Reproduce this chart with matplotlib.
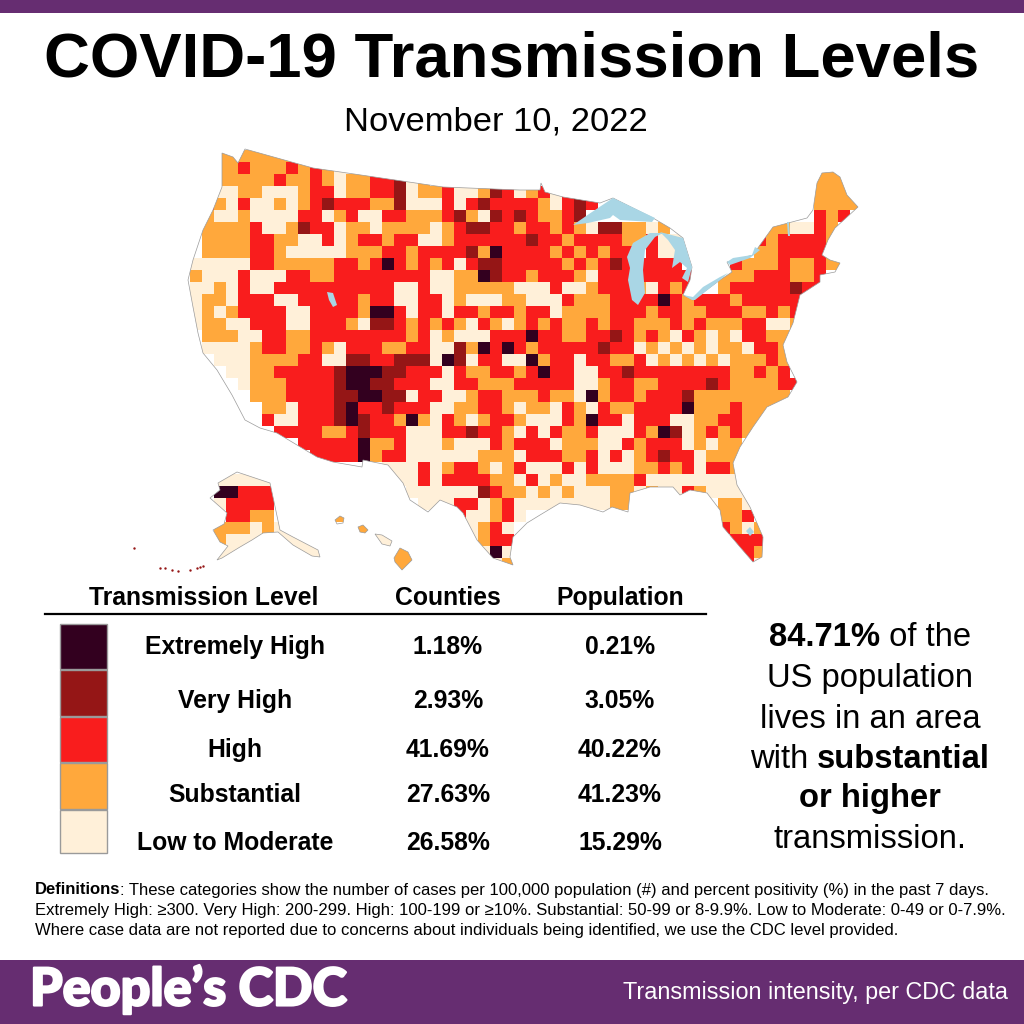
#!/usr/bin/env python3
"""COVID-19 transmission level map + table, rebuilt on a coarse county grid."""
import matplotlib
matplotlib.use("Agg")
import matplotlib.pyplot as plt
import matplotlib.patheffects as pe
import numpy as np
from matplotlib.colors import ListedColormap
from matplotlib.patches import Polygon, Rectangle, PathPatch
from matplotlib.path import Path

LEVELS = ["Extremely High", "Very High", "High", "Substantial", "Low to Moderate"]
COUNTIES = ["1.18%", "2.93%", "41.69%", "27.63%", "26.58%"]
POPULATION = ["0.21%", "3.05%", "40.22%", "41.23%", "15.29%"]
LEVEL_COLORS = ["#33001f", "#951616", "#f91d1d", "#ffa83c", "#fff0d9"]
LEVEL_CODES = "EVHSL"

PURPLE = "#662d71"; LAKE = "#a9d6e5"; EDGE = "#9a9a9a"
FONT = "Liberation Sans"

# level per grid cell, one string per row (groups of 5 columns), "." = no data
COUNTY_ROWS = [
    "SSSSS SSSS",
    "LLSSH SSSHS HSLLL ..... ..... ..... ..... ..... ..... ..... ..SSS .",
    "LSSSS SSHSS HSLSS HHVLS ..... ..... ..... ..... ..... ..... ..SSS .",
    "LLLLS SLLLS HHLSS HHVLS SHLLS VHLSH LH... ..... ..... ..... ..SSS .",
    "LHSLH LLSLS HVHHH SSVLL LHLHV HHHHS LHVH. ..... ..... ..... ..SSS S",
    "SSLLS LLLLH HLSHL LHHSS SHVSL VHVHS SHV.. ..... ..... ..... ..HSH .",
    ".SSSS HLLSV HHLSS LSSSS LSHVV HHSHH SHSLV VSSLS ..... ...SS LLHS. .",
    ".SSSS HHSSL LHLSH HSHHL LSHHH HHHVH HSHHH HSSHL L.... ..HSH HHHS. .",
    ".SSSS HHSLL LLLSS SHHSH HHHVS EHHHH SHSHS HH.HL L.... ..SSH HHHS. .",
    "LLLLL HHSSS SSHHS HEHSH SHLHV VHHHH HSHSH VHHHH H.... HSSSH SSHSS .",
    "SLLLH LLLHH SSHHH HHHHH LLSSE VHHSH HHSLH HHHHH HH..S SSHHH SSH.. .",
    "LLSLH LLHHH HHHHH HHLLH LLSSS SSLLL HLLSH HHSLH SH..S HHHHH VHH.. .",
    "LSSLH HHLLH HHHHS HHLLH HLSLL LSSLL LHSSS HHHHE HSHHH SHHHH H.... .",
    "LSLSH HHHLL HHHHS EEHLH HLHHS HHSHH LSSSS HHHSH HSSHH HSSHS H.... .",
    "LSSLL HHHLL HHHSL VVHSH SHSLH SLSHS HSSHS HHSSS HSHSS SHHLL S.... .",
    ".SSSL LHHSS HHHHH HHHSH LSLLL HHHEH HSSHH VHSHS LHSLS LHHSS S.... .",
    ".LLLL SHHSS HSLHH HSSHH LLVSE HEHSH HHHHV HHLSL SLSLS SLHHS S.... .",
    "..LLL SSSSH HLLVV HHVVV LEVLH HLLES HHLHH SSHLS LSLSL SSSHS S.... .",
    "...LL SSHHH HHVEE EVVHH HLHSS HHSHE HHLLH HVHHH HHHHH SSHSH ..... .",
    "....L SSSHH HHVEE VVHHH LLHHS SSHHH HHLLS HHSSH HHHVH SSSSH H.... .",
    "..... SSSHH HHVVE EVVLH HLLSH HSSSH SSLES HHSHH HVSSS SSSSS ..... .",
    "..... .SSLH HHVEH HVHHH LLSSH HSLSS LHSLH SSHHH HESSS HSSS. ..... .",
    "..... .HLLH HHVEV HHSES LHSLS HHSLL LHSEH HLHHH LLSSH HSS.. ..... .",
    "..... ..HHH HSSHV HHHLL LHHVH HSLHL HSSHL LLHSE VLSHS HS... ..... .",
    "..... ....H HHHHE SSHLL LSLLL HSHHH LSSSL LHSHH HLSLS S.... ..... .",
    "..... ..... HHHHE SHHLL LLLLS SSLHH HSSHL HLSHV HHLSS S.... ..... .",
    "..... ..... ..... .LLLH LSHHS LSHLL LHLHL LLSSH SHLHH S.... ..... .",
    ".LLLL LL... ..... ..LLH LHHHH SSLHL SLLSS SSHLL LLLLL LSS.. ..... .",
    "..EEH HH... ..... ...LL LLLLV HSSLS LSLLL SSLSL LHSLL LLS.. ..... .",
    "..LHH HH... ..... ....L LLHHL SHLLL LLLLL SS... ....S SL... ..... .",
    "...HH SS... ..S.. ..... LLHLL SHL.. ..... ..... ....S SH... ..... .",
    "..SSS LSL.. ....S ..... ..LLS HL... ..... ..... ....H SLS.. ..... .",
    "..SLL LLLLL ..... LL... ...LS HH... ..... ..... ..... HHH.. ..... .",
    "..LLL L..LL L.... ..SS. ....L ELL.. ..... ..... ..... HHS.. ..... .",
    ".LLL. ..... ..... ..SS. ..... LS... ..... ..... ..... .HL.. ..... .",
]

# land and lake outlines, in image pixels
MAINLAND = [(222, 153), (233, 157), (238, 163), (245, 149), (313, 168), (443, 187), (520, 190),
            (540, 190), (541, 183), (545, 192), (563, 197), (600, 203), (613, 198), (653, 218),
            (670, 228), (683, 238), (692, 267), (690, 280), (683, 295), (693, 300), (720, 280),
            (732, 272), (727, 262), (753, 255), (760, 245), (773, 227), (807, 218), (813, 210),
            (817, 183), (822, 173), (833, 172), (840, 177), (847, 195), (858, 207), (835, 228),
            (828, 240), (822, 255), (830, 260), (840, 263), (835, 272), (820, 275), (820, 282),
            (800, 295), (798, 303), (793, 323), (783, 345), (787, 362), (797, 382), (788, 397),
            (767, 407), (753, 427), (740, 447), (733, 463), (737, 485), (750, 507), (763, 537),
            (762, 557), (753, 562), (740, 547), (723, 527), (720, 510), (707, 493), (690, 490),
            (680, 495), (673, 487), (650, 487), (630, 493), (628, 512), (612, 507), (603, 512),
            (580, 505), (560, 503), (540, 515), (527, 523), (513, 537), (510, 557), (513, 565),
            (493, 558), (477, 540), (463, 513), (457, 507), (440, 500), (428, 512), (410, 500),
            (403, 483), (388, 465), (363, 460), (362, 467), (333, 462), (317, 457), (277, 433),
            (260, 428), (245, 420), (232, 395), (217, 370), (203, 353), (198, 333), (193, 307),
            (188, 280), (193, 260), (203, 230), (213, 210), (222, 187)]
ALASKA = [(237, 472), (270, 483), (280, 530), (293, 537), (318, 550), (320, 557), (312, 556),
          (293, 545), (278, 532), (263, 533), (252, 540), (240, 547), (222, 558), (217, 560),
          (228, 546), (220, 542), (213, 530), (224, 524), (227, 513), (210, 498), (220, 490),
          (218, 483)]
KAUAI = [(335, 520), (340, 516), (344, 518), (343, 523), (337, 524)]
OAHU = [(358, 527), (363, 525), (368, 530), (365, 533), (360, 532)]
MAUI = [(375, 534), (382, 535), (392, 541), (390, 546), (382, 544)]
BIG_ISLAND = [(394, 558), (400, 548), (408, 552), (412, 560), (402, 570), (395, 562)]

SUPERIOR = [(573, 225), (592, 212), (613, 198), (655, 218), (652, 222), (620, 220), (613, 215),
            (610, 218), (588, 223)]
MICHIGAN = [(650, 233), (633, 243), (627, 257), (630, 268), (628, 280), (632, 300), (638, 305),
            (645, 293), (643, 270), (645, 250), (655, 237), (663, 233)]
HURON = [(660, 232), (683, 238), (692, 267), (688, 282), (682, 278), (687, 268), (680, 262),
         (672, 268), (675, 250), (668, 240)]
ERIE = [(683, 295), (692, 300), (695, 300), (720, 280), (728, 273), (720, 277), (703, 287), (693, 297)]
ONTARIO = [(727, 262), (730, 265), (750, 258), (760, 250), (755, 247), (752, 255), (733, 258)]
SALT_LAKE = [(327, 292), (333, 293), (337, 305), (333, 307), (329, 300)]
OKEECHOBEE = [(746, 531), (750, 527), (754, 532), (750, 536)]
CHAMPLAIN = [(787, 222), (789, 222), (790, 236), (788, 236)]
LAKES = [SUPERIOR, MICHIGAN, HURON, ERIE, ONTARIO, SALT_LAKE, OKEECHOBEE, CHAMPLAIN]
ALEUTIANS_X = [134, 160, 165, 172, 178, 190, 197, 200, 203]
ALEUTIANS_Y = [548, 568, 568, 570, 571, 570, 568, 567, 566]

fig = plt.figure(figsize=(10.24, 10.24), dpi=100)
ax = fig.add_axes([0, 0, 1, 1])
ax.set_xlim(0, 1024); ax.set_ylim(1024, 0); ax.axis("off")


def txt(x, y, s, size, weight="normal", color="black", ha="center", family=FONT):
    return ax.text(x, y, s, fontsize=size, fontweight=weight, color=color, ha=ha,
                   va="center", family=family)


def mixed(x, y, parts, size, center=True):
    # parts = [(text, weight)...] laid out one after another on a line
    r = fig.canvas.get_renderer()
    widths = []
    for s, w in parts:
        t = txt(0, y, s, size, w, ha="left")
        widths.append(t.get_window_extent(r).width)
        t.remove()
    cur = x - sum(widths) / 2 if center else x
    for (s, w), wd in zip(parts, widths):
        txt(cur, y, s, size, w, ha="left")
        cur += wd


# bars and headings
ax.add_patch(Rectangle((0, 0), 1024, 13, color=PURPLE, lw=0))
ax.add_patch(Rectangle((0, 960), 1024, 64, color=PURPLE, lw=0))
txt(512, 60, "COVID-19 Transmission Levels", 45.7, "bold")
txt(496, 122, "November 10, 2022", 24.8)

# county grid clipped to the land outline
rows = [r.replace(" ", "").ljust(56, ".")[:56] for r in COUNTY_ROWS]
codes = np.array([[LEVEL_CODES.find(c) for c in r] for r in rows], dtype=float)
codes = np.ma.masked_less(codes, 0)
xe = 190 + 12 * np.arange(codes.shape[1] + 1)
ye = 150 + 12 * np.arange(codes.shape[0] + 1)
mesh = ax.pcolormesh(xe, ye, codes, cmap=ListedColormap(LEVEL_COLORS), vmin=-0.5, vmax=4.5,
                     linewidth=0, antialiased=False)
land = Path.make_compound_path(*[Path(np.array(p + [p[0]], float), closed=True)
                                 for p in [MAINLAND, ALASKA, KAUAI, OAHU, MAUI, BIG_ISLAND]])
mesh.set_clip_path(land, transform=ax.transData)
ax.add_patch(PathPatch(land, fill=False, edgecolor=EDGE, lw=0.5))
for lake in LAKES:
    ax.add_patch(Polygon(lake, closed=True, facecolor=LAKE, edgecolor="none"))
ax.scatter(ALEUTIANS_X, ALEUTIANS_Y, s=3, color=LEVEL_COLORS[1], lw=0)

# table
txt(204, 598, "Transmission Level", 17.8, "bold")
txt(448, 598, "Counties", 17.8, "bold")
txt(620, 598, "Population", 17.8, "bold")
ax.plot([45, 706], [614, 614], color="black", lw=1.6)
swatch_y = [624, 670, 717, 763, 810, 854]
text_y = [647, 701, 750, 795, 843]
for i, level in enumerate(LEVELS):
    ax.add_patch(Rectangle((60, swatch_y[i]), 47, swatch_y[i + 1] - swatch_y[i] - 1,
                           facecolor=LEVEL_COLORS[i], edgecolor=EDGE, lw=1))
    txt(235, text_y[i], level, 17.8, "bold")
    txt(448, text_y[i], COUNTIES[i], 17.8, "bold")
    txt(620, text_y[i], POPULATION[i], 17.8, "bold")

# call-out
mixed(870, 638, [("84.71%", "bold"), (" of the", "normal")], 23.6)
txt(870, 678, "US population", 23.6)
txt(870, 719, "lives in an area", 23.6)
mixed(870, 759, [("with ", "normal"), ("substantial", "bold")], 23.6)
txt(870, 799, "or higher", 23.6, "bold")
txt(870, 839, "transmission.", 23.6)

# definitions
mixed(35, 890, [("Definitions", "bold"),
                (": These categories show the number of cases per 100,000 population (#) and percent positivity (%) in the past 7 days.", "normal")],
      11.95, center=False)
txt(35, 910, "Extremely High: ≥300. Very High: 200-299. High: 100-199 or ≥10%. Substantial: 50-99 or 8-9.9%. Low to Moderate: 0-49 or 0-7.9%.", 11.95, ha="left")
txt(35, 930, "Where case data are not reported due to concerns about individuals being identified, we use the CDC level provided.", 11.95, ha="left")

# footer
brand = txt(30, 990, "People’s CDC", 37.5, "black", "white", ha="left", family="Lato")
brand.set_path_effects([pe.withStroke(linewidth=1.6, foreground="white")])
txt(1008, 992, "Transmission intensity, per CDC data", 16.8, color="white", ha="right")

fig.savefig("out.png", dpi=100, facecolor="white")
